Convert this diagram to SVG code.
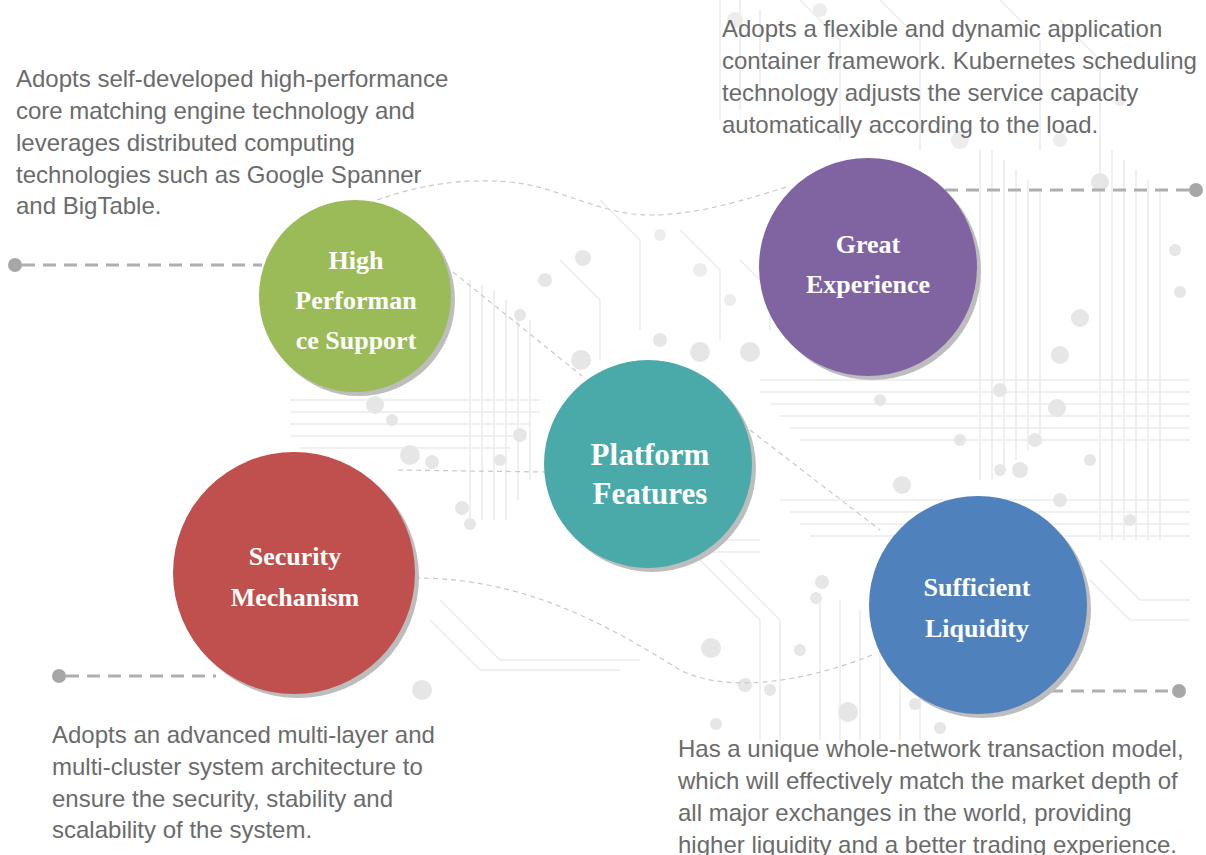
<svg xmlns="http://www.w3.org/2000/svg" width="1206" height="855" viewBox="0 0 1206 855">
<defs>
<style>
.bgl{fill:none;stroke:#ececec;stroke-width:1.5}
.bgc{fill:#e6e6e6}
.bgc2{fill:#ededed}
.desc{font-family:"Liberation Sans",Arial,sans-serif;font-size:24px;fill:#6b6b6b}
.lbl{font-family:"Liberation Serif","Times New Roman",serif;font-weight:bold;font-size:26px;fill:#ffffff;text-anchor:middle}
.lblc{font-size:31px}
.shadow{fill:#bdbdbd}
.thin{fill:none;stroke:#c9c9c9;stroke-width:1.2;stroke-dasharray:5 4}
.lead{fill:none;stroke:#b0aeaf;stroke-width:3;stroke-dasharray:13 8}
.dot{fill:#a9a6a7}
</style>
</defs>
<rect width="1206" height="855" fill="#ffffff"/>
<g id="background">
<path class="bgl" d="M290 400 H540 M290 412 H540 M290 424 H530 M290 436 H520 M300 448 H510"/>
<path class="bgl" d="M470 280 V520 M482 285 V520 M494 290 V520 M506 300 V520 M518 310 V500 M530 320 V480"/>
<path class="bgl" d="M560 260 L600 300 V360 M600 200 L640 240 V330 M680 230 L720 270 V340 M740 260 L770 290 V330"/>
<path class="bgl" d="M760 380 H1190 M760 392 H1190 M770 404 H1190 M780 416 H1190 M790 428 H1190 M800 440 H1190 M780 500 H1190 M790 512 H1190 M800 524 H1190 M810 536 H1190"/>
<path class="bgl" d="M980 150 V480 M992 150 V480 M1004 160 V470 M1016 170 V460 M1028 180 V450 M1040 190 V440 M1100 150 V540 M1112 150 V540 M1124 160 V540 M1136 170 V540 M1148 180 V540 M1160 190 V540"/>
<path class="bgl" d="M720 0 V120 M740 0 V110 M760 10 V100 M800 0 L840 40 V140 M880 0 L920 40 V150 M1000 0 L1040 40 V150 M1060 20 L1100 60 V150"/>
<path class="bgl" d="M700 560 L760 620 V740 M720 560 L780 620 V740 M820 600 V740 M840 600 V740 M860 610 V740 M880 610 V740 M900 620 V740 M920 620 V740"/>
<path class="bgl" d="M440 600 L500 660 H640 M430 620 L480 670 H620 M600 540 H760 M600 552 H760"/>
<path class="bgl" d="M1100 560 L1140 600 H1190 M1090 580 L1130 620 H1190"/>
<circle class="bgc" cx="583" cy="258" r="8"/>
<circle class="bgc" cx="581" cy="360" r="10"/>
<circle class="bgc" cx="660" cy="340" r="7"/>
<circle class="bgc" cx="700" cy="352" r="10"/>
<circle class="bgc" cx="750" cy="352" r="10"/>
<circle class="bgc" cx="520" cy="315" r="6"/>
<circle class="bgc" cx="545" cy="280" r="7"/>
<circle class="bgc" cx="410" cy="455" r="10"/>
<circle class="bgc" cx="432" cy="462" r="7"/>
<circle class="bgc" cx="462" cy="508" r="7"/>
<circle class="bgc" cx="470" cy="524" r="6"/>
<circle class="bgc" cx="375" cy="405" r="9"/>
<circle class="bgc" cx="392" cy="420" r="6"/>
<circle class="bgc" cx="520" cy="435" r="7"/>
<circle class="bgc" cx="500" cy="460" r="6"/>
<circle class="bgc" cx="422" cy="690" r="10"/>
<circle class="bgc" cx="711" cy="648" r="10"/>
<circle class="bgc" cx="745" cy="685" r="7"/>
<circle class="bgc" cx="770" cy="690" r="6"/>
<circle class="bgc" cx="716" cy="724" r="6"/>
<circle class="bgc" cx="848" cy="712" r="10"/>
<circle class="bgc" cx="822" cy="582" r="7"/>
<circle class="bgc" cx="816" cy="598" r="6"/>
<circle class="bgc" cx="800" cy="650" r="6"/>
<circle class="bgc" cx="915" cy="704" r="6"/>
<circle class="bgc" cx="940" cy="728" r="6"/>
<circle class="bgc" cx="1100" cy="182" r="9"/>
<circle class="bgc" cx="1060" cy="355" r="9"/>
<circle class="bgc" cx="1080" cy="318" r="9"/>
<circle class="bgc" cx="1057" cy="408" r="9"/>
<circle class="bgc" cx="1035" cy="440" r="7"/>
<circle class="bgc" cx="1020" cy="470" r="8"/>
<circle class="bgc" cx="1000" cy="470" r="6"/>
<circle class="bgc" cx="902" cy="485" r="9"/>
<circle class="bgc" cx="1180" cy="292" r="6"/>
<circle class="bgc" cx="1175" cy="250" r="6"/>
<circle class="bgc" cx="1090" cy="460" r="6"/>
<circle class="bgc" cx="1060" cy="500" r="7"/>
<circle class="bgc" cx="1130" cy="520" r="6"/>
<circle class="bgc" cx="960" cy="440" r="6"/>
<circle class="bgc" cx="880" cy="400" r="6"/>
<circle class="bgc" cx="1000" cy="390" r="7"/>
<circle class="bgc2" cx="735" cy="20" r="8"/>
<circle class="bgc2" cx="820" cy="10" r="7"/>
<circle class="bgc2" cx="960" cy="140" r="9"/>
<circle class="bgc2" cx="1060" cy="140" r="7"/>
<circle class="bgc2" cx="1120" cy="100" r="6"/>
<circle class="bgc2" cx="660" cy="235" r="6"/>
<circle class="bgc2" cx="700" cy="270" r="7"/>
<circle class="bgc2" cx="730" cy="300" r="6"/>
</g>
<g id="connectors">
<path class="thin" d="M377 200 C420 185 460 178 510 182 C560 187 600 215 650 215 C700 215 750 198 790 186"/>
<path class="thin" d="M453 272 L582 376"/>
<path class="thin" d="M750 430 L880 530"/>
<path class="thin" d="M415 578 C520 578 600 620 680 670 C730 695 810 680 872 655"/>
<path class="thin" d="M398 470 L545 472"/>
<path class="lead" d="M22 265 H262"/>
<circle class="dot" cx="15" cy="265" r="7"/>
<path class="lead" d="M66 676 H216"/>
<circle class="dot" cx="59" cy="676" r="7"/>
<path class="lead" d="M945 190 H1189"/>
<circle class="dot" cx="1196" cy="190" r="7"/>
<path class="lead" d="M1050 691 H1172"/>
<circle class="dot" cx="1179" cy="691" r="7"/>
</g>
<g id="node-high-performance">
<circle class="shadow" cx="359" cy="300" r="96"/>
<circle cx="355" cy="296" r="96" fill="#9bbb59"/>
<text class="lbl" x="356" y="269">High</text>
<text class="lbl" x="356" y="309">Performan</text>
<text class="lbl" x="356" y="349">ce Support</text>
</g>
<g id="node-great-experience">
<circle class="shadow" cx="872" cy="271" r="109"/>
<circle cx="868" cy="267" r="109" fill="#8064a2"/>
<text class="lbl" x="868" y="253">Great</text>
<text class="lbl" x="868" y="293">Experience</text>
</g>
<g id="node-platform-features">
<circle class="shadow" cx="652" cy="468" r="104"/>
<circle cx="648" cy="464" r="104" fill="#4aaaa9"/>
<text class="lbl lblc" x="650" y="465">Platform</text>
<text class="lbl lblc" x="650" y="504">Features</text>
</g>
<g id="node-security">
<circle class="shadow" cx="298" cy="577" r="121"/>
<circle cx="294" cy="573" r="121" fill="#c0504d"/>
<text class="lbl" x="295" y="565">Security</text>
<text class="lbl" x="295" y="606">Mechanism</text>
</g>
<g id="node-liquidity">
<circle class="shadow" cx="982" cy="609" r="109"/>
<circle cx="978" cy="605" r="109" fill="#4f81bd"/>
<text class="lbl" x="977" y="596">Sufficient</text>
<text class="lbl" x="977" y="637">Liquidity</text>
</g>
<g id="desc-high-performance">
<text class="desc" x="16" y="87">Adopts self-developed high-performance</text>
<text class="desc" x="16" y="119">core matching engine technology and</text>
<text class="desc" x="16" y="151">leverages distributed computing</text>
<text class="desc" x="16" y="183">technologies such as Google Spanner</text>
<text class="desc" x="16" y="214">and BigTable.</text>
</g>
<g id="desc-great-experience">
<text class="desc" x="722" y="37">Adopts a flexible and dynamic application</text>
<text class="desc" x="722" y="69">container framework. Kubernetes scheduling</text>
<text class="desc" x="722" y="101">technology adjusts the service capacity</text>
<text class="desc" x="722" y="133">automatically according to the load.</text>
</g>
<g id="desc-security">
<text class="desc" x="52" y="743">Adopts an advanced multi-layer and</text>
<text class="desc" x="52" y="775">multi-cluster system architecture to</text>
<text class="desc" x="52" y="807">ensure the security, stability and</text>
<text class="desc" x="52" y="838">scalability of the system.</text>
</g>
<g id="desc-liquidity">
<text class="desc" x="678" y="757">Has a unique whole-network transaction model,</text>
<text class="desc" x="678" y="789">which will effectively match the market depth of</text>
<text class="desc" x="678" y="821">all major exchanges in the world, providing</text>
<text class="desc" x="678" y="853">higher liquidity and a better trading experience.</text>
</g>
</svg>
